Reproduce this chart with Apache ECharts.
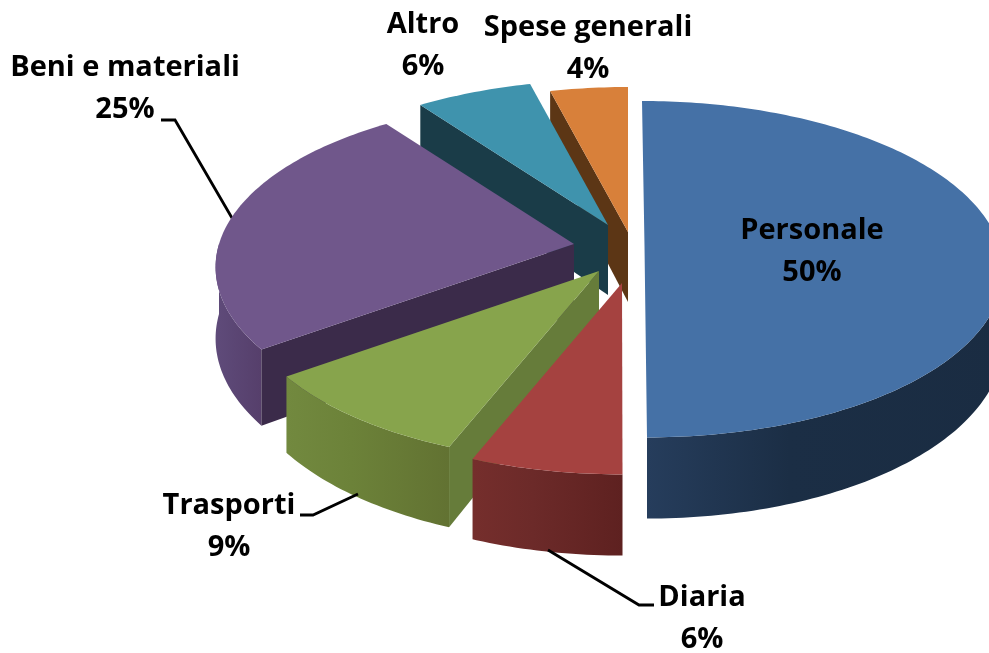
<!DOCTYPE html>
<html>
<head>
<meta charset="utf-8">
<style>
html, body { margin: 0; padding: 0; background: #fff; }
#main { width: 989px; height: 653px; }
</style>
<script src="https://cdn.jsdelivr.net/npm/echarts@6/dist/echarts.min.js"></script>
</head>
<body>
<div id="main"></div>
<script>
const categories = ['Personale', 'Diaria', 'Trasporti', 'Beni e materiali', 'Altro', 'Spese generali'];
const values = [50, 6, 9, 25, 6, 4];

// layout of the fake 3d pie
const radiusX = 355, radiusY = 165, depth = 70, persp = 0.138;
// apex of each exploded slice: x, y, lean of the slice
const apexes = [[644.5, 246, 2.5], [622, 283, 0.5], [599, 271, 0], [574, 244, 0], [608, 225, 0], [628, 232, 0]];
const paintOrder = [5, 4, 3, 2, 1, 0];

const topColors = ['#4571a6', '#a54240', '#87a44c', '#70578b', '#3f93ad', '#d8803a'];
const faceColors = ['#1a2c42', '#5e2120', '#667c3a', '#3b2b4a', '#1a3c48', '#5c3615'];
const wallColors = [
    ['#263d5c', '#1b2e45', '#1a2c42'],
    ['#752e2c', '#6c2a29', '#5e2120'],
    ['#72893f', '#6c8239', '#627232'],
    ['#5f4b7a', '#5b4674', '#563f6b'],
    ['#1a3c48', '#1a3c48', '#1a3c48'],
    ['#5c3615', '#5c3615', '#5c3615']
];
const labelPos = [[812, 252], [702, 619], [229, 527], [125, 89], [423, 46], [588, 49]];
const leaders = [
    null,
    [[548, 550], [639, 605], [654, 605]],
    [[358, 494], [313, 515], [300, 515]],
    [[232, 218], [175, 120], [161, 120]],
    null,
    null
];

const total = values.reduce((a, b) => a + b, 0);
const starts = [];
values.reduce((acc, v, i) => {
    starts[i] = acc / total * 360;
    return acc + v;
}, 0);

// angle clockwise from the top of the pie, returns [x, y] on the surface
function project(i, deg) {
    const a = apexes[i];
    const rad = deg * Math.PI / 180;
    const u = Math.sin(rad), v = -Math.cos(rad);
    const w = 1 - persp * v;
    return [a[0] + radiusX * u / w + a[2] * v, a[1] + radiusY * v / w];
}

function drop(deg) {
    const v = -Math.cos(deg * Math.PI / 180);
    return depth / (1 - persp * v);
}

function arcPoints(i, from, to) {
    const pts = [];
    for (let d = from; d < to; d += 1) {
        pts.push(project(i, d));
    }
    pts.push(project(i, to));
    return pts;
}

function renderSlice(params, api) {
    const i = params.dataIndex;
    const from = starts[i];
    const to = from + api.value(0) / total * 360;
    const order = paintOrder.indexOf(i) * 10;
    const apex = [apexes[i][0], apexes[i][1]];
    const children = [];

    // outer wall, front half only
    const wallFrom = Math.max(from, 90), wallTo = Math.min(to, 270);
    if (wallFrom < wallTo) {
        const upper = arcPoints(i, wallFrom, wallTo);
        const lower = upper.map((p, k) => {
            const d = k < upper.length - 1 ? wallFrom + k : wallTo;
            return [p[0], p[1] + drop(d)];
        });
        const wc = wallColors[i];
        children.push({
            type: 'polygon',
            z2: order,
            shape: { points: upper.concat(lower.reverse()) },
            style: {
                fill: new echarts.graphic.LinearGradient(0, 0, 1, 0, [
                    { offset: 0, color: wc[0] },
                    { offset: 0.4, color: wc[1] },
                    { offset: 1, color: wc[2] }
                ])
            }
        });
    }
    // cut face, only the ones turned to the viewer
    if (from > 180) {
        const p = project(i, from);
        children.push({
            type: 'polygon',
            z2: order + 1,
            shape: {
                points: [apex, p, [p[0], p[1] + drop(from)], [apex[0], apex[1] + depth]]
            },
            style: { fill: faceColors[i] }
        });
    }
    // top
    children.push({
        type: 'polygon',
        z2: order + 2,
        shape: { points: [apex].concat(arcPoints(i, from, to)) },
        style: { fill: topColors[i] }
    });
    if (leaders[i]) {
        children.push({
            type: 'polyline',
            z2: i === 3 ? 0 : 100,
            shape: { points: leaders[i] },
            style: { fill: null, stroke: '#000', lineWidth: 2.8 }
        });
    }
    children.push({
        type: 'text',
        z2: 200,
        style: {
            text: categories[i] + '\n' + api.value(0) + '%',
            x: labelPos[i][0],
            y: labelPos[i][1],
            fill: '#000',
            font: 'bold 29px "Open Sans", sans-serif',
            lineHeight: 42,
            align: 'center',
            verticalAlign: 'middle'
        }
    });
    return { type: 'group', children: children };
}

const myChart = echarts.init(document.getElementById('main'));
myChart.setOption({
    animation: false,
    backgroundColor: '#fff',
    series: [{
        type: 'custom',
        coordinateSystem: 'none',
        renderItem: renderSlice,
        silent: true,
        clip: false,
        data: categories.map((name, i) => ({ name: name, value: [values[i]] }))
    }]
});
</script>
</body>
</html>
